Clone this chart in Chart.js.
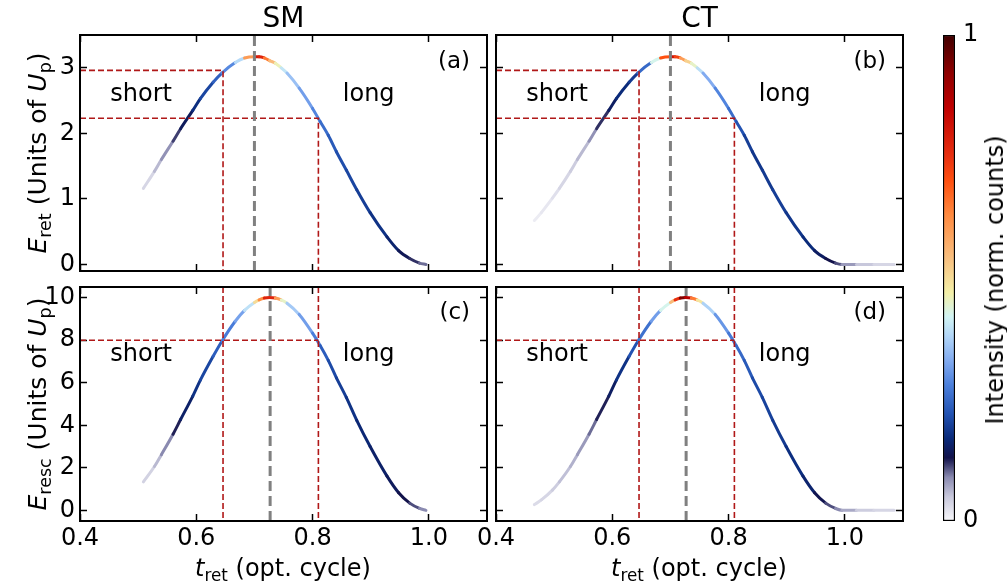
<!DOCTYPE html>
<html lang="en">
<head>
    <meta charset="UTF-8">
    <title>Return and rescattering energy - SM vs CT</title>
    <script src="https://cdn.jsdelivr.net/npm/chart.js"></script>
    <style>
        body { margin: 0; background: #fff; }
        #wrap { position: relative; width: 1007px; height: 584px; overflow: hidden; font-family: "DejaVu Sans", sans-serif; color: #000; }
        canvas { position: absolute; left: 0; top: 0; }
        .rot { position: absolute; white-space: nowrap; line-height: 1; font-size: 25px; transform: translate(-50%, -50%) rotate(-90deg); }
        .xt { position: absolute; white-space: nowrap; line-height: 1; font-size: 24px; transform: translateX(-50%); }
        sub { font-size: 0.7em; vertical-align: -0.3em; line-height: 0; }
    </style>
</head>
<body>
<div id="wrap">
    <canvas id="pa" width="1007" height="584"></canvas>
    <canvas id="pb" width="1007" height="584"></canvas>
    <canvas id="pc" width="1007" height="584"></canvas>
    <canvas id="pd" width="1007" height="584"></canvas>
    <canvas id="cbar" width="1007" height="584"></canvas>

    <!-- axis titles (mathtext-like) -->
    <div class="rot" style="left:37px; top:153px"><i>E</i><sub>ret</sub> (Units of <i>U</i><sub>p</sub>)</div>
    <div class="rot" style="left:37px; top:404px"><i>E</i><sub>resc</sub> (Units of <i>U</i><sub>p</sub>)</div>
    <div class="xt" style="left:283px; top:556px"><i>t</i><sub>ret</sub> (opt. cycle)</div>
    <div class="xt" style="left:699px; top:556px"><i>t</i><sub>ret</sub> (opt. cycle)</div>
    <div class="rot" style="left:995px; top:280px; font-size:24px">Intensity (norm. counts)</div>
</div>

<script>
    // ---- data ----
    // SM (simple man model), return time in optical cycles
    const tSM = [0.509, 0.528, 0.540, 0.560, 0.573, 0.594, 0.607, 0.629, 0.644, 0.667, 0.683,
                 0.700, 0.708, 0.717, 0.726, 0.736, 0.746, 0.756, 0.777, 0.800, 0.813, 0.827,
                 0.841, 0.858, 0.876, 0.899, 0.928, 0.948, 0.967, 0.984, 0.995];
    const eRetSM = [1.16, 1.42, 1.60, 1.88, 2.07, 2.35, 2.53, 2.78, 2.92, 3.08, 3.15,
                    3.17, 3.17, 3.15, 3.11, 3.07, 3.00, 2.92, 2.69, 2.38, 2.18, 1.97,
                    1.72, 1.44, 1.14, 0.79, 0.42, 0.21, 0.09, 0.02, 0.00];
    const eRescSM = [1.34, 2.06, 2.62, 3.58, 4.27, 5.37, 6.12, 7.24, 7.95, 8.89, 9.40,
                     9.77, 9.89, 9.98, 10.01, 9.98, 9.89, 9.74, 9.21, 8.33, 7.75, 7.05,
                     6.23, 5.31, 4.23, 3.00, 1.61, 0.83, 0.34, 0.09, 0.00];
    const intRetSM = [0.02, 0.05, 0.07, 0.10, 0.13, 0.16, 0.19, 0.22, 0.26, 0.32, 0.45,
                      0.75, 0.85, 0.70, 0.60, 0.50, 0.42, 0.38, 0.33, 0.30, 0.27, 0.24,
                      0.22, 0.21, 0.20, 0.19, 0.17, 0.15, 0.13, 0.11, 0.09];
    const intRescSM = [0.03, 0.05, 0.07, 0.11, 0.14, 0.17, 0.19, 0.22, 0.25, 0.30, 0.34,
                       0.45, 0.55, 0.70, 0.85, 0.70, 0.50, 0.40, 0.33, 0.30, 0.25, 0.22,
                       0.20, 0.19, 0.17, 0.16, 0.15, 0.14, 0.12, 0.10, 0.08];

    // CT (classical trajectories)
    const tCT = [0.466, 0.478, 0.497, 0.509, 0.528, 0.540, 0.560, 0.573, 0.594, 0.607, 0.629,
                 0.644, 0.667, 0.683, 0.700, 0.708, 0.717, 0.726, 0.736, 0.746, 0.756, 0.777,
                 0.800, 0.813, 0.827, 0.841, 0.858, 0.876, 0.899, 0.928, 0.948, 0.967, 0.984,
                 0.995, 1.020, 1.050, 1.085];
    const eRetCT = [0.67, 0.79, 1.01, 1.16, 1.42, 1.60, 1.88, 2.07, 2.35, 2.53, 2.78,
                    2.92, 3.08, 3.15, 3.17, 3.17, 3.15, 3.11, 3.07, 3.00, 2.92, 2.69,
                    2.38, 2.18, 1.97, 1.72, 1.44, 1.14, 0.79, 0.42, 0.21, 0.09, 0.02,
                    0.00, 0.00, 0.00, 0.00];
    const eRescCT = [0.27, 0.49, 0.95, 1.34, 2.06, 2.62, 3.58, 4.27, 5.37, 6.12, 7.24,
                     7.95, 8.89, 9.40, 9.77, 9.89, 9.98, 10.01, 9.98, 9.89, 9.74, 9.21,
                     8.33, 7.75, 7.05, 6.23, 5.31, 4.23, 3.00, 1.61, 0.83, 0.34, 0.09,
                     0.00, 0.00, 0.00, 0.00];
    const intRetCT = [0.01, 0.015, 0.02, 0.03, 0.04, 0.05, 0.07, 0.10, 0.14, 0.16, 0.18,
                      0.20, 0.30, 0.55, 0.85, 0.80, 0.65, 0.55, 0.48, 0.42, 0.36, 0.30,
                      0.27, 0.24, 0.20, 0.19, 0.18, 0.20, 0.19, 0.18, 0.16, 0.14, 0.12,
                      0.10, 0.06, 0.04, 0.03];
    const intRescCT = [0.03, 0.03, 0.04, 0.05, 0.06, 0.07, 0.09, 0.11, 0.14, 0.16, 0.20,
                       0.24, 0.28, 0.35, 0.50, 0.60, 0.90, 0.97, 0.75, 0.55, 0.42, 0.33,
                       0.28, 0.26, 0.24, 0.22, 0.20, 0.20, 0.18, 0.17, 0.15, 0.12, 0.10,
                       0.08, 0.06, 0.03, 0.04];

    // guide lines
    const cutT = [0.646, 0.81];        // red dashed verticals
    const cutRet = [2.96, 2.23];       // red dashed horizontals (top row)
    const cutResc = 8;                 // red dashed horizontal (bottom row)
    const peakT = [0.70, 0.727];       // grey dashed: E_ret max, E_resc max

    // axes
    const xRange = [0.4, 1.1];
    const xTicks = [0.4, 0.6, 0.8, 1.0];
    const yRetRange = [-0.1, 3.5];
    const yRetTicks = [0, 1, 2, 3];
    const yRescRange = [-0.5, 10.5];
    const yRescTicks = [0, 2, 4, 6, 8, 10];
    const cbarTicks = [0, 1];
    const labelT = [0.452, 0.852];     // "short", "long"

    // colormap (white -> navy -> blue -> yellow -> orange -> dark red)
    const cmapStops = [
        [0.00, '#f8f8fb'], [0.05, '#c8c8dc'], [0.09, '#8a8ab0'], [0.13, '#12124a'],
        [0.17, '#0a2a7a'], [0.22, '#2252b2'], [0.28, '#4c80dc'], [0.33, '#82abf0'],
        [0.38, '#b2d6f8'], [0.42, '#d2f4f4'], [0.47, '#f4f0a8'], [0.54, '#f8c080'],
        [0.63, '#ff8a40'], [0.70, '#ff5010'], [0.75, '#e83010'], [0.85, '#c00000'],
        [0.92, '#900000'], [1.00, '#400000']
    ];

    function hexRgb(h) {
        return [1, 3, 5].map(i => parseInt(h.substr(i, 2), 16));
    }

    function cmap(v) {
        v = Math.max(0, Math.min(1, v));
        for (let i = 1; i < cmapStops.length; i++) {
            if (v <= cmapStops[i][0]) {
                const [v0, c0] = cmapStops[i - 1];
                const [v1, c1] = cmapStops[i];
                const f = (v - v0) / (v1 - v0);
                const a = hexRgb(c0), b = hexRgb(c1);
                return 'rgb(' + a.map((x, k) => Math.round(x + (b[k] - x) * f)).join(',') + ')';
            }
        }
        return cmapStops[cmapStops.length - 1][1];
    }

    const W = 1007, H = 584;
    const YAX_W = 75, XAX_H = 50;      // room for tick labels
    const RED = '#b01818', GREY = '#808080';
    Chart.defaults.font.family = '"DejaVu Sans", sans-serif';
    Chart.defaults.color = '#000';

    // text inside each panel: title, tag, short/long
    const panelText = {
        id: 'panelText',
        afterDraw(chart, args, o) {
            const { ctx, chartArea: a, scales: { x, y } } = chart;
            ctx.save();
            ctx.fillStyle = '#000';
            ctx.textBaseline = 'alphabetic';
            if (o.title) {
                ctx.font = '28px "DejaVu Sans"';
                ctx.textAlign = 'center';
                ctx.fillText(o.title, (a.left + a.right) / 2, 27);
            }
            ctx.font = '23px "DejaVu Sans"';
            ctx.textAlign = 'right';
            ctx.fillText(o.tag, a.right - 17, a.top + o.tagDy);
            ctx.font = '24px "DejaVu Sans"';
            ctx.textAlign = 'left';
            ctx.fillText('short', x.getPixelForValue(labelT[0]), y.getPixelForValue(o.labelY));
            ctx.fillText('long', x.getPixelForValue(labelT[1]), y.getPixelForValue(o.labelY));
            ctx.restore();
        }
    };

    function frameAxis(pos, range, ticks, showLabels, size, fmt) {
        return {
            type: 'linear', position: pos, min: range[0], max: range[1],
            afterBuildTicks: ax => { ax.ticks = ticks.map(v => ({ value: v })); },
            afterFit: ax => { if (ax.isHorizontal()) ax.height = size; else ax.width = size; },
            border: { display: true, color: '#000', width: 2, z: 1 },
            grid: { drawOnChartArea: false, drawTicks: true, tickLength: -7, tickWidth: 1.5, tickColor: '#000' },
            ticks: {
                display: showLabels, padding: pos === 'left' ? 12 : 10,
                font: { size: 24 }, color: '#000',
                callback: fmt
            }
        };
    }

    function line(pts, color, width, dash) {
        return {
            data: pts, showLine: true, borderColor: color, borderWidth: width,
            borderDash: dash, pointRadius: 0, fill: false
        };
    }

    function panel(id, box, p) {
        const yr = p.yRange;
        const guides = [
            line([{ x: p.peak, y: yr[0] }, { x: p.peak, y: yr[1] }], GREY, 3, [10, 5])
        ];
        if (p.top) {
            guides.push(line([{ x: xRange[0], y: cutRet[0] }, { x: cutT[0], y: cutRet[0] }, { x: cutT[0], y: yr[0] }], RED, 1.6, [6, 3]));
            guides.push(line([{ x: xRange[0], y: cutRet[1] }, { x: cutT[1], y: cutRet[1] }, { x: cutT[1], y: yr[0] }], RED, 1.6, [6, 3]));
        } else {
            guides.push(line([{ x: cutT[0], y: yr[1] }, { x: cutT[0], y: yr[0] }], RED, 1.6, [6, 3]));
            guides.push(line([{ x: cutT[1], y: yr[1] }, { x: cutT[1], y: yr[0] }], RED, 1.6, [6, 3]));
            guides.push(line([{ x: xRange[0], y: cutResc }, { x: cutT[1], y: cutResc }], RED, 1.6, [6, 3]));
        }
        const ints = p.ints;
        const curve = {
            data: p.t.map((t, i) => ({ x: t, y: p.e[i] })),
            showLine: true, borderWidth: 3, pointRadius: 0, fill: false,
            borderCapStyle: 'round', cubicInterpolationMode: 'monotone',
            borderColor: cmap(0.2),
            segment: { borderColor: s => cmap((ints[s.p0DataIndex] + ints[s.p1DataIndex]) / 2) }
        };

        const yW = p.left ? YAX_W : 0;
        const xH = p.top ? 0 : XAX_H;
        new Chart(document.getElementById(id), {
            type: 'scatter',
            data: { datasets: guides.concat([curve]) },
            options: {
                responsive: false, animation: false,
                layout: { padding: { left: box[0] - yW, top: box[1], right: W - box[2], bottom: H - box[3] - xH } },
                plugins: {
                    legend: { display: false }, tooltip: { enabled: false },
                    panelText: { title: p.title, tag: p.tag, tagDy: p.top ? 33 : 32, labelY: p.top ? 2.5 : 7.0 }
                },
                scales: {
                    x: frameAxis('bottom', xRange, xTicks, !p.top, xH, v => v.toFixed(1)),
                    x2: frameAxis('top', xRange, xTicks, false, 0),
                    y: frameAxis('left', yr, p.yTicks, p.left, yW, v => String(v)),
                    y2: frameAxis('right', yr, p.yTicks, false, 0)
                }
            },
            plugins: [panelText]
        });
    }

    panel('pa', [80, 35, 487, 271], { t: tSM, e: eRetSM, ints: intRetSM, yRange: yRetRange, yTicks: yRetTicks,
        peak: peakT[0], top: true, left: true, title: 'SM', tag: '(a)' });
    panel('pb', [496, 35, 903, 271], { t: tCT, e: eRetCT, ints: intRetCT, yRange: yRetRange, yTicks: yRetTicks,
        peak: peakT[0], top: true, left: false, title: 'CT', tag: '(b)' });
    panel('pc', [80, 287, 487, 521], { t: tSM, e: eRescSM, ints: intRescSM, yRange: yRescRange, yTicks: yRescTicks,
        peak: peakT[1], top: false, left: true, tag: '(c)' });
    panel('pd', [496, 287, 903, 521], { t: tCT, e: eRescCT, ints: intRescCT, yRange: yRescRange, yTicks: yRescTicks,
        peak: peakT[1], top: false, left: false, tag: '(d)' });

    // colorbar
    new Chart(document.getElementById('cbar'), {
        type: 'bar',
        data: {
            labels: [''],
            datasets: [{
                data: [[0, 1]],
                backgroundColor: c => {
                    const a = c.chart.chartArea;
                    if (!a) return null;
                    const g = c.chart.ctx.createLinearGradient(0, a.bottom, 0, a.top);
                    cmapStops.forEach(([v, col]) => g.addColorStop(v, col));
                    return g;
                },
                borderColor: '#000', borderWidth: 1.5, borderSkipped: false,
                barPercentage: 1, categoryPercentage: 1
            }]
        },
        options: {
            responsive: false, animation: false,
            layout: { padding: { left: 943, top: 35, right: W - 955 - 40, bottom: H - 521 } },
            plugins: { legend: { display: false }, tooltip: { enabled: false } },
            scales: {
                x: { display: false },
                y: {
                    position: 'right', min: 0, max: 1,
                    afterBuildTicks: ax => { ax.ticks = cbarTicks.map(v => ({ value: v })); },
                    afterFit: ax => { ax.width = 40; },
                    border: { display: false },
                    grid: { display: false, drawTicks: false },
                    ticks: { padding: 8, font: { size: 24 }, color: '#000' }
                }
            }
        }
    });
</script>
</body>
</html>
